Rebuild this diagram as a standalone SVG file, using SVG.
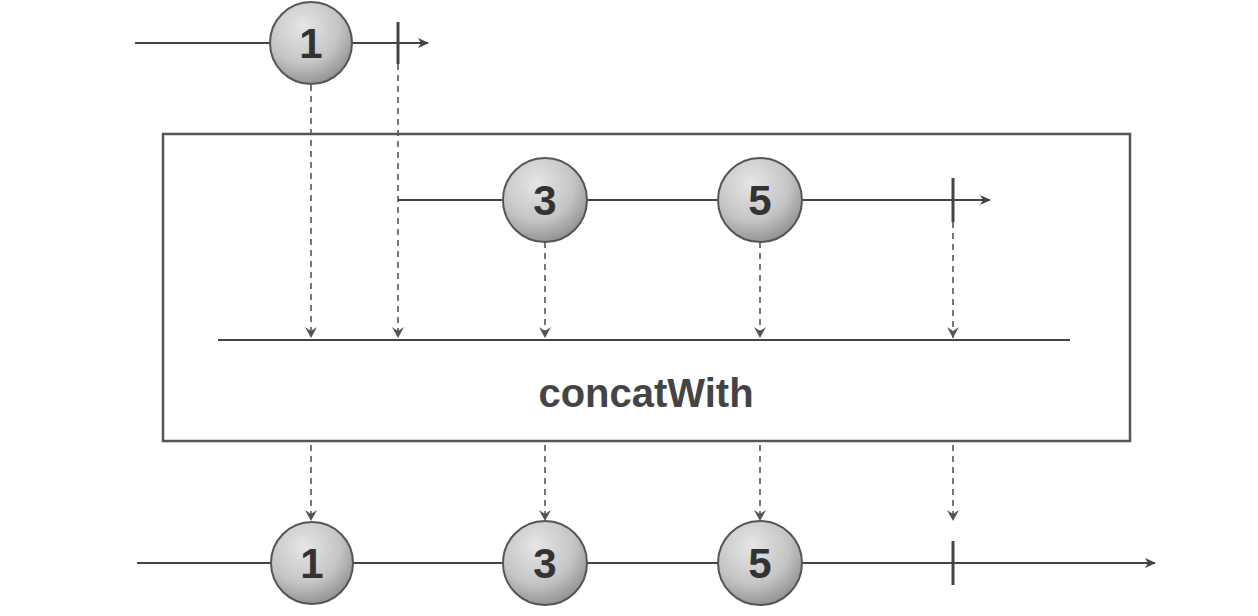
<svg xmlns="http://www.w3.org/2000/svg" width="1258" height="616" viewBox="0 0 1258 616">
<defs>
<radialGradient id="g" cx="0.4" cy="0.3" r="0.75">
<stop offset="0" stop-color="#e6e6e6"/>
<stop offset="0.6" stop-color="#c4c4c4"/>
<stop offset="1" stop-color="#8c8c8c"/>
</radialGradient>
<marker id="ah" markerWidth="12" markerHeight="10" refX="10" refY="5" orient="auto" markerUnits="userSpaceOnUse">
<path d="M0,0 L11,5 L0,10 L3,5 Z" fill="#444"/>
</marker>
<marker id="dh" markerWidth="12" markerHeight="12" refX="11" refY="6" orient="auto" markerUnits="userSpaceOnUse">
<path d="M0,0 L11,6 L0,12 L4,6 Z" fill="#555"/>
</marker>
</defs>
<style>
.line{stroke:#444;stroke-width:2;fill:none}
.tick{stroke:#444;stroke-width:3}
.dash{stroke:#555;stroke-width:1.6;stroke-dasharray:6,5;fill:none}
.ball{fill:url(#g);stroke:#555;stroke-width:2}
.num{font-family:"Liberation Sans",Arial,sans-serif;font-weight:bold;font-size:42px;fill:#333;text-anchor:middle}
.lbl{font-family:"Liberation Sans",Arial,sans-serif;font-weight:bold;font-size:40px;fill:#444;text-anchor:middle}
</style>
<rect width="1258" height="616" fill="#fff"/>
<g id="operator">
<rect x="163" y="134" width="967" height="307" fill="none" stroke="#555" stroke-width="2.5"/>
<line x1="218" y1="340" x2="1070" y2="340" class="line"/>
<text x="646" y="407" class="lbl">concatWith</text>
</g>
<g id="connectors">
<line x1="135" y1="43" x2="428" y2="43" class="line" marker-end="url(#ah)"/>
<line x1="398" y1="200" x2="990" y2="200" class="line" marker-end="url(#ah)"/>
<line x1="137" y1="563" x2="1155" y2="563" class="line" marker-end="url(#ah)"/>
<line x1="311" y1="85" x2="311" y2="338" class="dash" marker-end="url(#dh)"/>
<line x1="398" y1="64" x2="398" y2="338" class="dash" marker-end="url(#dh)"/>
<line x1="545" y1="242" x2="545" y2="338" class="dash" marker-end="url(#dh)"/>
<line x1="760" y1="242" x2="760" y2="338" class="dash" marker-end="url(#dh)"/>
<line x1="953" y1="222" x2="953" y2="338" class="dash" marker-end="url(#dh)"/>
<line x1="311" y1="445" x2="311" y2="521" class="dash" marker-end="url(#dh)"/>
<line x1="545" y1="445" x2="545" y2="521" class="dash" marker-end="url(#dh)"/>
<line x1="760" y1="445" x2="760" y2="521" class="dash" marker-end="url(#dh)"/>
<line x1="953" y1="445" x2="953" y2="521" class="dash" marker-end="url(#dh)"/>
</g>
<g id="source1">
<circle cx="311" cy="43" r="41" class="ball"/>
<text x="311" y="58" class="num">1</text>
<line x1="398" y1="22" x2="398" y2="64" class="tick"/>
</g>
<g id="source2">
<circle cx="545" cy="200" r="42" class="ball"/>
<text x="545" y="215" class="num">3</text>
<circle cx="760" cy="200" r="42" class="ball"/>
<text x="760" y="215" class="num">5</text>
<line x1="953" y1="178" x2="953" y2="222" class="tick"/>
</g>
<g id="result">
<circle cx="312" cy="563" r="41" class="ball"/>
<text x="312" y="578" class="num">1</text>
<circle cx="545" cy="563" r="42" class="ball"/>
<text x="545" y="578" class="num">3</text>
<circle cx="760" cy="563" r="42" class="ball"/>
<text x="760" y="578" class="num">5</text>
<line x1="953" y1="541" x2="953" y2="585" class="tick"/>
</g>
</svg>
